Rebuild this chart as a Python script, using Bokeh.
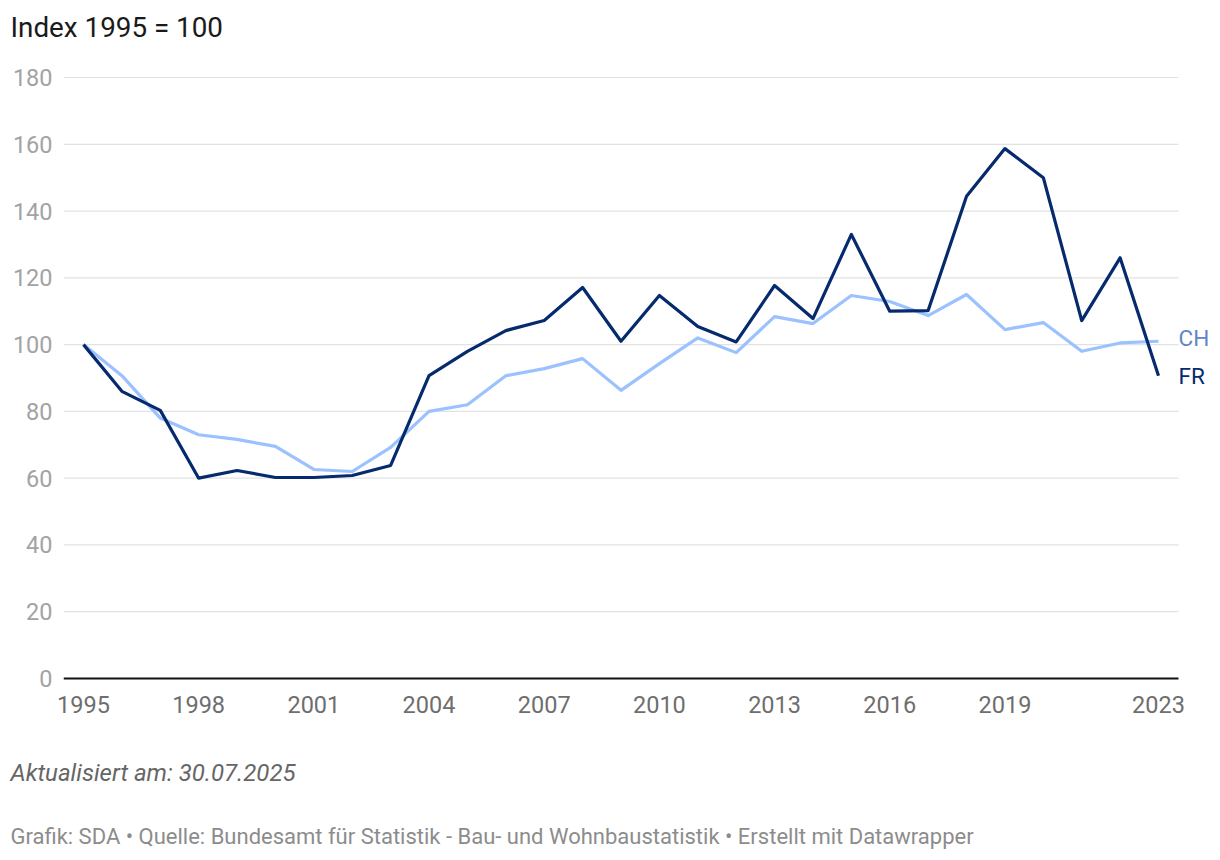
from bokeh.plotting import figure
from bokeh.layouts import column
from bokeh.models import Range1d, FixedTicker, Label, ColumnDataSource
from bokeh.embed import file_html
from bokeh.resources import INLINE

years = list(range(1995, 2024))
fr = [100, 86, 80.3, 60, 62.3, 60.2, 60.2, 60.8, 63.8, 90.7, 98, 104.2, 107.2, 117.1,
      101, 114.7, 105.4, 100.8, 117.7, 107.8, 133, 110, 110.2, 144.4, 158.7, 150,
      107.2, 126, 90.7]
ch = [100, 90.7, 78, 73, 71.6, 69.5, 62.6, 62, 69.2, 80, 82, 90.7, 92.8, 95.8,
      86.3, 94.3, 102, 97.6, 108.4, 106.3, 114.7, 112.9, 108.7, 115, 104.5, 106.6,
      98, 100.5, 101]
x_ticks = [1995, 1998, 2001, 2004, 2007, 2010, 2013, 2016, 2019, 2023]
y_ticks = [0, 20, 40, 60, 80, 100, 120, 140, 160, 180]
title_text = "Index 1995 = 100"
note_text = "Aktualisiert am: 30.07.2025"
source_text = "Grafik: SDA • Quelle: Bundesamt für Statistik - Bau- und Wohnbaustatistik • Erstellt mit Datawrapper"

FONT = "Roboto"
FR_COLOR = "#052b6e"
CH_COLOR = "#9bc1ff"
CH_LABEL = "#5f86c9"

W = 1212
TOP_H, MAIN_H, BOT_H = 55, 675, 126
FRAME_L = 63
MAIN_TOP_BORDER = 20          # frame top at 75 on the page
MAIN_BOTTOM_BORDER = 50       # frame bottom at 680 on the page
PX_YEAR = 38.393
X0 = 1995 - 20 / PX_YEAR
X1 = 2023 + 20 / PX_YEAR
XEND = X0 + (W - FRAME_L) / PX_YEAR
PX_UNIT = 601 / 180
Y0 = -2 / PX_UNIT
YEND = 180 + 2 / PX_UNIT


def text_strip(height):
    f = figure(width=W, height=height, output_backend="svg", toolbar_location=None,
               x_range=Range1d(0, 1), y_range=Range1d(0, 1),
               x_axis_type=None, y_axis_type=None,
               min_border_left=0, min_border_right=0, min_border_top=0,
               min_border_bottom=0)
    f.frame_align = False
    f.outline_line_color = None
    f.xgrid.grid_line_color = None
    f.ygrid.grid_line_color = None
    f.background_fill_color = "white"
    f.border_fill_color = "white"
    return f


top = text_strip(TOP_H)
top.add_layout(Label(x=10, y=TOP_H - 27, x_units="screen", y_units="screen",
                     text=title_text, text_baseline="middle", text_font=FONT,
                     text_font_size="27.8px", text_color="#1a1a1a"))

p = figure(width=W, height=MAIN_H, output_backend="svg", toolbar_location=None,
           x_range=Range1d(X0, XEND), y_range=Range1d(Y0, YEND),
           min_border_left=FRAME_L, min_border_right=0,
           min_border_top=MAIN_TOP_BORDER, min_border_bottom=MAIN_BOTTOM_BORDER)
p.frame_align = False
p.outline_line_color = None
p.background_fill_color = "white"
p.border_fill_color = "white"
p.xgrid.grid_line_color = None
p.ygrid.grid_line_color = None

p.yaxis.ticker = FixedTicker(ticks=y_ticks)
p.xaxis.ticker = FixedTicker(ticks=x_ticks)

p.yaxis.axis_line_color = None
p.yaxis.major_tick_line_color = None
p.yaxis.minor_tick_line_color = None
p.yaxis.major_tick_out = 0
p.yaxis.major_tick_in = 0
p.yaxis.major_label_standoff = 11
p.yaxis.major_label_text_font = FONT
p.yaxis.major_label_text_font_size = "23.5px"
p.yaxis.major_label_text_color = "#a3a3a3"

p.xaxis.axis_line_color = None
p.xaxis.major_tick_line_color = None
p.xaxis.minor_tick_line_color = None
p.xaxis.major_tick_out = 0
p.xaxis.major_tick_in = 0
p.xaxis.major_label_standoff = 15
p.xaxis.major_label_text_font = FONT
p.xaxis.major_label_text_font_size = "23.5px"
p.xaxis.major_label_text_color = "#6e6e6e"

# grid lines limited to the chart area (series labels sit to the right of it)
grid_y = [t for t in y_ticks if t != 0]
grid_src = ColumnDataSource(dict(y=grid_y, x0=[X0] * len(grid_y), x1=[X1] * len(grid_y)))
p.segment(x0="x0", y0="y", x1="x1", y1="y", source=grid_src,
          line_color="#e2e2e2", line_width=1.2)

src = ColumnDataSource(dict(year=years, fr=fr, ch=ch))
p.line("year", "ch", source=src, line_color=CH_COLOR, line_width=3.2, line_join="round")
p.line("year", "fr", source=src, line_color=FR_COLOR, line_width=3.2, line_join="round")

# baseline (x axis line)
p.segment(x0=[X0], y0=[0], x1=[X1], y1=[0], line_color="#111111", line_width=2.2)

p.add_layout(Label(x=years[-1], y=ch[-1], text="CH", x_offset=20, y_offset=3,
                   text_baseline="middle", text_font=FONT, text_font_size="22.5px",
                   text_color=CH_LABEL))
p.add_layout(Label(x=years[-1], y=fr[-1], text="FR", x_offset=20, y_offset=0,
                   text_baseline="middle", text_font=FONT, text_font_size="22.5px",
                   text_color=FR_COLOR))

bot = text_strip(BOT_H)
bot.add_layout(Label(x=10, y=BOT_H - 42, x_units="screen", y_units="screen",
                     text=note_text, text_baseline="middle", text_font=FONT,
                     text_font_size="24px", text_font_style="italic",
                     text_color="#666666"))
bot.add_layout(Label(x=10, y=BOT_H - 106, x_units="screen", y_units="screen",
                     text=source_text, text_baseline="middle", text_font=FONT,
                     text_font_size="22px", text_color="#8c8c8c"))

layout = column(top, p, bot, spacing=0)
open("out.html", "w").write(file_html(layout, INLINE))
